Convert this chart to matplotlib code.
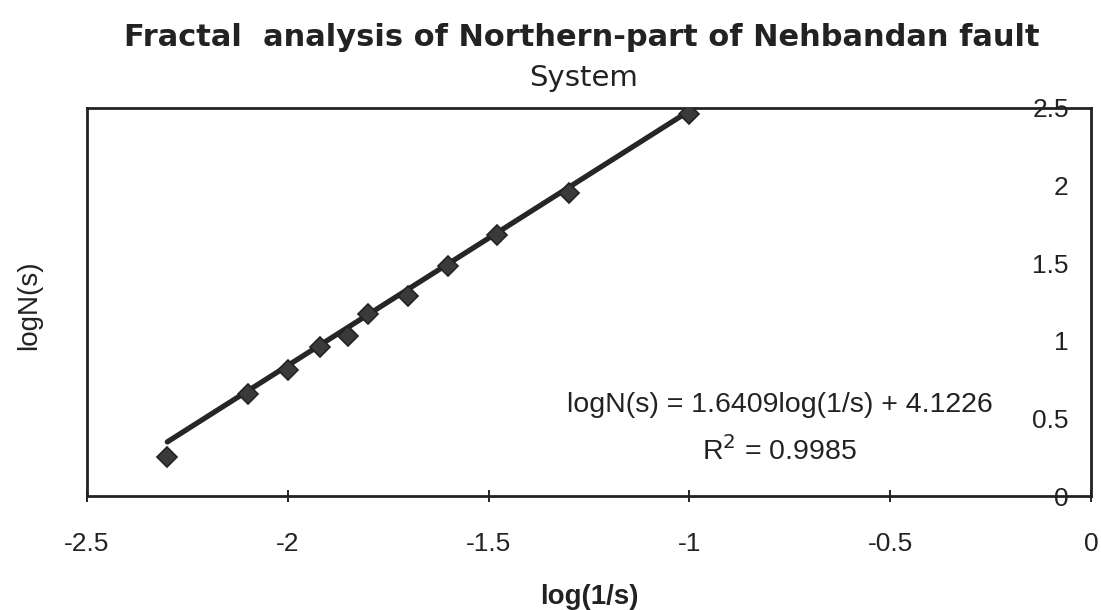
#!/usr/bin/env python

import matplotlib
matplotlib.use("Agg")
import matplotlib.pyplot as plt
from matplotlib import font_manager

# data
log_inv_s = [-2.30, -2.10, -2.00, -1.92, -1.85, -1.80, -1.70, -1.60, -1.48, -1.30, -1.00]
log_n = [0.25, 0.66, 0.81, 0.96, 1.03, 1.17, 1.29, 1.48, 1.68, 1.95, 2.46]

# trend line from the printed equation
SLOPE = 1.6409
INTERCEPT = 4.1226
R2 = 0.9985

x_ticks = [-2.5, -2, -1.5, -1, -0.5, 0]
x_ticklabels = ["-2.5", "-2", "-1.5", "-1", "-0.5", "0"]
y_ticks = [0, 0.5, 1, 1.5, 2, 2.5]
y_ticklabels = ["0", "0.5", "1", "1.5", "2", "2.5"]

names = {f.name for f in font_manager.fontManager.ttflist}
base = "Liberation Sans" if "Liberation Sans" in names else "DejaVu Sans"
plt.rcParams["font.family"] = [base, "DejaVu Sans"]

fig = plt.figure(figsize=(11.01, 6.10), dpi=100)
ax = fig.add_axes([87 / 1101, 1 - 496 / 610, (1091 - 87) / 1101, (496 - 108) / 610])

trend_x = [log_inv_s[0], log_inv_s[-1]]
trend_y = [SLOPE * v + INTERCEPT for v in trend_x]
ax.plot(trend_x, trend_y, color="#262626", lw=3.8, solid_capstyle="round", zorder=2)
ax.plot(log_inv_s, log_n, linestyle="none", marker="D", ms=10.5,
        mfc="#3a3a3a", mec="#222222", mew=1.2, zorder=3)

ax.set_xlim(-2.5, 0)
ax.set_ylim(0, 2.5)

ax.set_xticks(x_ticks)
ax.set_xticklabels(x_ticklabels)
ax.set_yticks(y_ticks)
ax.set_yticklabels(y_ticklabels)
ax.yaxis.tick_right()
ax.tick_params(axis="x", direction="inout", length=8, width=1.2, pad=22, labelsize=19,
               labelcolor="#222222")
ax.tick_params(axis="y", direction="in", length=0, pad=-16, labelsize=19,
               labelcolor="#222222")
for lab in ax.get_yticklabels():
    lab.set_horizontalalignment("right")

for sp in ax.spines.values():
    sp.set_linewidth(2.0)
    sp.set_color("#222222")

ax.text(0.690, 0.235, "logN(s) = %.4flog(1/s) + %.4f" % (SLOPE, INTERCEPT),
        transform=ax.transAxes, ha="center", va="center", fontsize=20.5, color="#222222")
ax.text(0.690, 0.115, "R$^2$ = %.4f" % R2,
        transform=ax.transAxes, ha="center", va="center", fontsize=20.5, color="#222222")

fig.text(582 / 1101, 1 - 46 / 610, "Fractal  analysis of Northern-part of Nehbandan fault",
         ha="center", va="baseline", fontsize=22, fontweight="bold",
         family=["DejaVu Sans"], color="#222222")
fig.text(584 / 1101, 1 - 86 / 610, "System", ha="center", va="baseline", fontsize=21,
         family=["DejaVu Sans"], color="#222222")
fig.text(589 / 1101, 1 - 597 / 610, "log(1/s)", ha="center", va="center",
         fontsize=20, fontweight="bold", color="#222222")
fig.text(29 / 1101, 1 - 305 / 610, "logN(s)", ha="center", va="center",
         rotation=90, fontsize=20, color="#222222")

fig.savefig("out.png", dpi=100)
